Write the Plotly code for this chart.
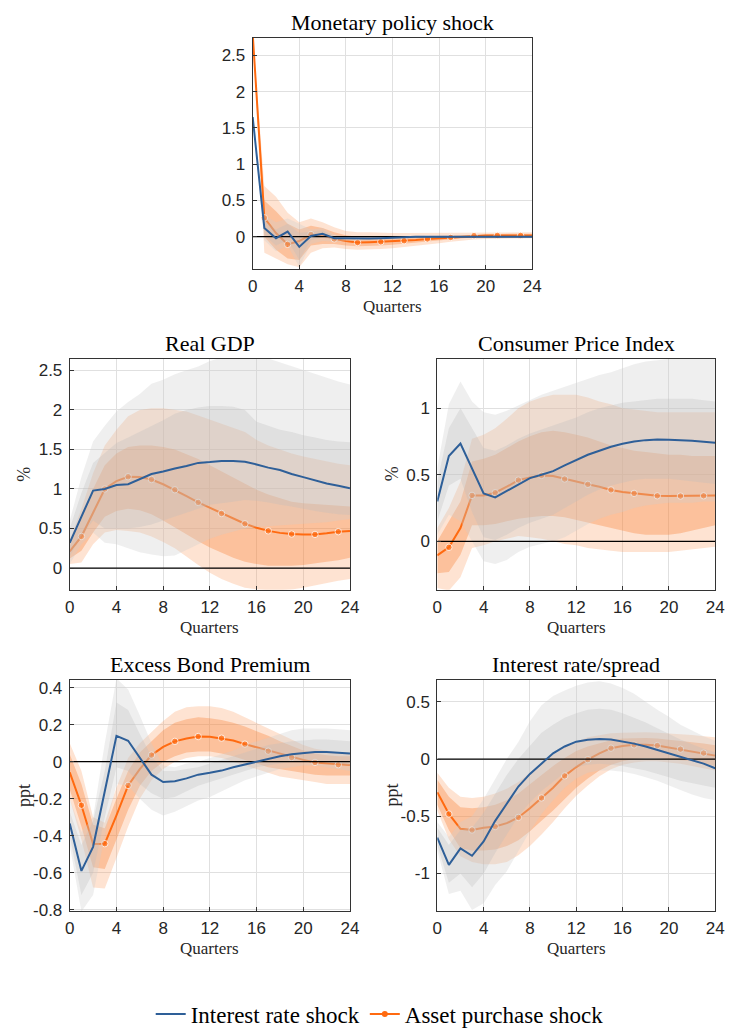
import plotly.graph_objects as go

quarters = list(range(25))

# ---------------- Monetary policy shock ----------------
mp_ir = [1.65, 0.12, -0.02, 0.07, -0.14, 0.01, 0.04, -0.02, -0.02, -0.025, -0.025, -0.02, -0.01,
         -0.005, 0.0, 0.0, 0.0, 0.0, 0.0, 0.0, 0.0, 0.0, 0.0, 0.0, 0.0]
mp_ir_lo90 = [1.65, -0.05, -0.2, -0.12, -0.42, -0.1, -0.06, -0.07, -0.06, -0.06, -0.05, -0.04, -0.03,
              -0.02, -0.015, -0.01, -0.01, -0.01, -0.01, -0.01, -0.01, -0.01, -0.01, -0.01, -0.01]
mp_ir_lo68 = [1.65, 0.02, -0.12, -0.05, -0.32, -0.05, -0.01, -0.05, -0.04, -0.04, -0.04, -0.03, -0.02,
              -0.01, -0.01, -0.005, -0.005, -0.005, -0.005, -0.005, -0.005, -0.005, -0.005, -0.005, -0.005]
mp_ir_hi68 = [1.65, 0.22, 0.1, 0.18, 0.05, 0.07, 0.09, 0.01, 0.0, -0.01, -0.01, -0.005, 0.0,
              0.0, 0.005, 0.005, 0.005, 0.005, 0.005, 0.005, 0.005, 0.005, 0.005, 0.005, 0.005]
mp_ir_hi90 = [1.65, 0.3, 0.2, 0.25, 0.18, 0.1, 0.12, 0.03, 0.01, 0.0, 0.0, 0.005, 0.01,
              0.01, 0.01, 0.01, 0.01, 0.01, 0.01, 0.01, 0.01, 0.01, 0.01, 0.01, 0.01]
mp_ap = [2.8, 0.26, 0.05, -0.105, -0.06, 0.03, 0.02, -0.03, -0.06, -0.08, -0.075, -0.07, -0.062,
         -0.055, -0.045, -0.03, -0.02, -0.01, 0.0, 0.014, 0.016, 0.018, 0.018, 0.018, 0.018]
mp_ap_lo90 = [2.8, -0.22, -0.3, -0.38, -0.42, -0.22, -0.16, -0.15, -0.17, -0.18, -0.18, -0.17, -0.16,
              -0.15, -0.13, -0.11, -0.09, -0.07, -0.05, -0.04, -0.03, -0.025, -0.02, -0.02, -0.02]
mp_ap_lo68 = [2.8, 0.0, -0.18, -0.3, -0.32, -0.12, -0.1, -0.1, -0.12, -0.13, -0.13, -0.12, -0.11,
              -0.1, -0.09, -0.07, -0.05, -0.035, -0.02, -0.01, -0.005, 0.0, 0.0, 0.0, 0.0]
mp_ap_hi68 = [2.8, 0.5, 0.35, 0.18, 0.1, 0.15, 0.12, 0.06, 0.02, 0.0, -0.005, -0.01, -0.01,
              -0.005, 0.0, 0.01, 0.02, 0.025, 0.03, 0.035, 0.04, 0.04, 0.04, 0.04, 0.04]
mp_ap_hi90 = [2.8, 0.7, 0.55, 0.33, 0.2, 0.25, 0.2, 0.13, 0.08, 0.06, 0.06, 0.05, 0.05,
              0.05, 0.05, 0.05, 0.05, 0.055, 0.06, 0.06, 0.06, 0.06, 0.06, 0.06, 0.06]

# ---------------- Real GDP ----------------
gdp_ir = [0.32, 0.65, 0.98, 1.0, 1.05, 1.06, 1.12, 1.19, 1.22, 1.26, 1.29, 1.33, 1.34,
          1.355, 1.355, 1.345, 1.31, 1.27, 1.24, 1.19, 1.15, 1.11, 1.07, 1.04, 1.01]
gdp_ir_lo90 = [0.05, 0.3, 0.45, 0.32, 0.3, 0.25, 0.2, 0.17, 0.15, 0.16, 0.22, 0.3, 0.37,
               0.42, 0.46, 0.5, 0.52, 0.53, 0.54, 0.55, 0.56, 0.57, 0.58, 0.6, 0.62]
gdp_ir_lo68 = [0.15, 0.4, 0.6, 0.5, 0.5, 0.5, 0.52, 0.55, 0.6, 0.65, 0.7, 0.75, 0.8,
               0.82, 0.84, 0.86, 0.85, 0.83, 0.8, 0.78, 0.75, 0.72, 0.7, 0.68, 0.67]
gdp_ir_hi68 = [0.5, 0.95, 1.33, 1.45, 1.58, 1.65, 1.72, 1.8, 1.87, 1.95, 2.0, 2.03, 2.05,
               2.05, 2.04, 2.0, 1.85, 1.8, 1.75, 1.72, 1.68, 1.65, 1.62, 1.6, 1.59]
gdp_ir_hi90 = [0.6, 1.15, 1.6, 1.8, 1.98, 2.1, 2.2, 2.33, 2.38, 2.45, 2.5, 2.55, 2.62,
               2.66, 2.67, 2.67, 2.67, 2.65, 2.6, 2.55, 2.5, 2.45, 2.4, 2.36, 2.32]
gdp_ap = [0.21, 0.4, 0.7, 1.0, 1.1, 1.155, 1.15, 1.12, 1.06, 0.99, 0.91, 0.83, 0.76,
          0.69, 0.62, 0.56, 0.51, 0.47, 0.445, 0.43, 0.425, 0.425, 0.44, 0.46, 0.47]
gdp_ap_lo90 = [0.05, 0.07, 0.3, 0.45, 0.48, 0.47, 0.45, 0.4, 0.33, 0.25, 0.15, 0.04, -0.06,
               -0.14, -0.2, -0.25, -0.27, -0.28, -0.28, -0.27, -0.25, -0.22, -0.19, -0.16, -0.14]
gdp_ap_lo68 = [0.12, 0.22, 0.45, 0.65, 0.72, 0.75, 0.73, 0.68, 0.6, 0.52, 0.43, 0.34, 0.26,
               0.19, 0.13, 0.08, 0.05, 0.03, 0.03, 0.03, 0.04, 0.06, 0.08, 0.1, 0.13]
gdp_ap_hi68 = [0.28, 0.62, 1.0, 1.3, 1.45, 1.53, 1.55, 1.55, 1.53, 1.5, 1.44, 1.38, 1.3,
               1.22, 1.14, 1.06, 0.99, 0.93, 0.88, 0.84, 0.82, 0.81, 0.8, 0.79, 0.78]
gdp_ap_hi90 = [0.35, 0.75, 1.2, 1.55, 1.75, 1.92, 2.0, 2.02, 2.02, 2.0, 1.98, 1.93, 1.88,
               1.82, 1.77, 1.72, 1.62, 1.55, 1.5, 1.45, 1.41, 1.38, 1.35, 1.32, 1.3]

# ---------------- Consumer Price Index ----------------
cpi_ir = [0.3, 0.64, 0.735, 0.55, 0.36, 0.33, 0.38, 0.43, 0.475, 0.5, 0.527, 0.57, 0.61,
          0.65, 0.68, 0.71, 0.733, 0.75, 0.76, 0.765, 0.762, 0.76, 0.755, 0.748, 0.74]
cpi_ir_lo90 = [0.05, 0.2, 0.15, 0.0, -0.15, -0.17, -0.14, -0.08, -0.04, -0.02, 0.0, 0.03, 0.08,
               0.13, 0.17, 0.2, 0.22, 0.25, 0.27, 0.28, 0.29, 0.29, 0.29, 0.3, 0.3]
cpi_ir_lo68 = [0.15, 0.42, 0.47, 0.22, 0.03, 0.01, 0.05, 0.1, 0.14, 0.17, 0.2, 0.25, 0.3,
               0.35, 0.39, 0.42, 0.44, 0.46, 0.47, 0.47, 0.47, 0.46, 0.45, 0.44, 0.43]
cpi_ir_hi68 = [0.45, 0.85, 1.0, 0.85, 0.7, 0.68, 0.72, 0.77, 0.81, 0.84, 0.87, 0.9, 0.93,
               0.97, 1.0, 1.02, 1.04, 1.05, 1.06, 1.07, 1.07, 1.07, 1.07, 1.06, 1.05]
cpi_ir_hi90 = [0.55, 1.03, 1.2, 1.05, 0.97, 0.95, 0.98, 1.02, 1.06, 1.1, 1.13, 1.16, 1.19,
               1.22, 1.25, 1.27, 1.3, 1.33, 1.35, 1.36, 1.37, 1.37, 1.37, 1.37, 1.37]
cpi_ap = [-0.105, -0.045, 0.1, 0.345, 0.345, 0.365, 0.41, 0.46, 0.48, 0.495, 0.49, 0.468, 0.45,
          0.428, 0.41, 0.386, 0.37, 0.36, 0.35, 0.342, 0.34, 0.34, 0.342, 0.342, 0.345]
cpi_ap_lo90 = [-0.35, -0.37, -0.27, -0.05, -0.03, 0.0, 0.02, 0.04, 0.03, 0.02, 0.0, -0.02, -0.03,
               -0.05, -0.06, -0.07, -0.08, -0.08, -0.08, -0.08, -0.08, -0.07, -0.06, -0.05, -0.04]
cpi_ap_lo68 = [-0.24, -0.23, -0.1, 0.12, 0.12, 0.13, 0.15, 0.17, 0.18, 0.19, 0.19, 0.18, 0.16,
               0.14, 0.12, 0.1, 0.08, 0.06, 0.05, 0.05, 0.05, 0.06, 0.08, 0.1, 0.12]
cpi_ap_hi68 = [0.0, 0.15, 0.3, 0.6, 0.62, 0.65, 0.7, 0.75, 0.79, 0.82, 0.83, 0.82, 0.8,
               0.78, 0.75, 0.72, 0.7, 0.68, 0.67, 0.66, 0.65, 0.65, 0.64, 0.64, 0.64]
cpi_ap_hi90 = [0.1, 0.25, 0.45, 0.77, 0.8, 0.85, 0.92, 1.0, 1.05, 1.08, 1.1, 1.1, 1.1,
               1.08, 1.05, 1.03, 1.0, 0.99, 0.98, 0.97, 0.97, 0.97, 0.97, 0.97, 0.97]

# ---------------- Excess Bond Premium ----------------
ebp_ir = [-0.334, -0.59, -0.46, -0.16, 0.14, 0.113, 0.02, -0.07, -0.11, -0.105, -0.09, -0.07, -0.06,
          -0.048, -0.03, -0.015, 0.0, 0.015, 0.03, 0.04, 0.048, 0.052, 0.052, 0.048, 0.045]
ebp_ir_lo90 = [-0.45, -0.81, -0.72, -0.4, -0.12, -0.13, -0.2, -0.26, -0.29, -0.27, -0.24, -0.21, -0.19,
               -0.16, -0.13, -0.1, -0.08, -0.06, -0.04, -0.03, -0.02, -0.02, -0.03, -0.04, -0.05]
ebp_ir_lo68 = [-0.4, -0.72, -0.6, -0.3, -0.03, -0.05, -0.12, -0.17, -0.2, -0.19, -0.16, -0.13, -0.11,
               -0.09, -0.07, -0.05, -0.03, -0.02, -0.01, 0.0, 0.0, 0.0, -0.005, -0.01, -0.02]
ebp_ir_hi68 = [-0.27, -0.45, -0.32, -0.05, 0.32, 0.28, 0.15, 0.03, -0.05, -0.05, -0.04, -0.03, -0.01,
               0.01, 0.03, 0.05, 0.07, 0.09, 0.1, 0.11, 0.115, 0.12, 0.12, 0.115, 0.11]
ebp_ir_hi90 = [-0.2, -0.38, -0.3, 0.1, 0.45, 0.39, 0.25, 0.1, -0.02, -0.03, -0.01, 0.0, 0.02,
               0.04, 0.06, 0.09, 0.11, 0.13, 0.15, 0.17, 0.18, 0.18, 0.18, 0.175, 0.17]
ebp_ap = [-0.057, -0.235, -0.445, -0.443, -0.29, -0.128, -0.04, 0.036, 0.08, 0.11, 0.125, 0.136, 0.135,
          0.127, 0.115, 0.095, 0.078, 0.057, 0.04, 0.023, 0.01, -0.004, -0.01, -0.016, -0.018]
ebp_ap_lo90 = [-0.2, -0.42, -0.68, -0.685, -0.52, -0.35, -0.2, -0.1, -0.04, 0.0, 0.02, 0.03, 0.03,
               0.02, 0.0, -0.02, -0.04, -0.06, -0.08, -0.09, -0.1, -0.11, -0.12, -0.12, -0.12]
ebp_ap_lo68 = [-0.15, -0.35, -0.57, -0.58, -0.42, -0.26, -0.13, -0.05, 0.0, 0.03, 0.05, 0.055, 0.055,
               0.045, 0.03, 0.01, -0.01, -0.03, -0.04, -0.05, -0.06, -0.07, -0.075, -0.075, -0.075]
ebp_ap_hi68 = [0.04, -0.12, -0.34, -0.36, -0.2, -0.05, 0.05, 0.11, 0.17, 0.21, 0.23, 0.24, 0.235,
               0.225, 0.21, 0.19, 0.165, 0.14, 0.11, 0.085, 0.06, 0.045, 0.035, 0.03, 0.03]
ebp_ap_hi90 = [0.1, -0.05, -0.3, -0.33, -0.14, 0.02, 0.1, 0.16, 0.22, 0.27, 0.295, 0.3, 0.3,
               0.29, 0.27, 0.24, 0.21, 0.18, 0.15, 0.12, 0.09, 0.07, 0.06, 0.05, 0.05]

# ---------------- Interest rate / spread ----------------
irs_ir = [-0.687, -0.925, -0.78, -0.845, -0.72, -0.54, -0.39, -0.24, -0.13, -0.04, 0.05, 0.11, 0.152,
          0.168, 0.175, 0.17, 0.155, 0.135, 0.11, 0.08, 0.05, 0.02, -0.01, -0.04, -0.08]
irs_ir_lo90 = [-0.8, -1.18, -1.15, -1.32, -1.26, -1.1, -0.98, -0.8, -0.63, -0.48, -0.36, -0.25, -0.17,
               -0.12, -0.1, -0.1, -0.11, -0.13, -0.16, -0.19, -0.23, -0.27, -0.31, -0.34, -0.36]
irs_ir_lo68 = [-0.75, -1.08, -1.0, -1.12, -1.0, -0.82, -0.66, -0.5, -0.38, -0.28, -0.2, -0.12, -0.07,
               -0.05, -0.04, -0.05, -0.06, -0.08, -0.1, -0.13, -0.16, -0.19, -0.21, -0.23, -0.25]
irs_ir_hi68 = [-0.6, -0.75, -0.62, -0.6, -0.47, -0.3, -0.14, 0.0, 0.12, 0.23, 0.3, 0.36, 0.4,
               0.43, 0.44, 0.43, 0.4, 0.36, 0.32, 0.27, 0.22, 0.17, 0.13, 0.09, 0.06]
irs_ir_hi90 = [-0.55, -0.68, -0.55, -0.5, -0.35, -0.18, 0.0, 0.15, 0.33, 0.47, 0.55, 0.6, 0.64,
               0.67, 0.68, 0.66, 0.62, 0.57, 0.5, 0.43, 0.37, 0.3, 0.25, 0.2, 0.16]
irs_ap = [-0.29, -0.48, -0.61, -0.62, -0.6, -0.59, -0.56, -0.51, -0.43, -0.34, -0.25, -0.147, -0.07,
          -0.005, 0.05, 0.095, 0.115, 0.124, 0.125, 0.118, 0.1, 0.086, 0.07, 0.052, 0.03]
irs_ap_lo90 = [-0.45, -0.7, -0.85, -0.9, -0.92, -0.92, -0.9, -0.84, -0.76, -0.66, -0.55, -0.43, -0.32,
               -0.23, -0.15, -0.09, -0.05, -0.03, -0.02, -0.02, -0.03, -0.04, -0.06, -0.08, -0.1]
irs_ap_lo68 = [-0.4, -0.62, -0.78, -0.8, -0.8, -0.79, -0.76, -0.71, -0.63, -0.54, -0.45, -0.35, -0.25,
               -0.17, -0.1, -0.05, -0.02, 0.0, 0.01, 0.01, 0.0, -0.01, -0.02, -0.04, -0.06]
irs_ap_hi68 = [-0.18, -0.33, -0.42, -0.43, -0.42, -0.4, -0.36, -0.3, -0.22, -0.14, -0.06, 0.01, 0.07,
               0.11, 0.14, 0.165, 0.18, 0.185, 0.185, 0.18, 0.17, 0.16, 0.15, 0.135, 0.12]
irs_ap_hi90 = [-0.12, -0.25, -0.33, -0.34, -0.33, -0.3, -0.26, -0.2, -0.12, -0.04, 0.04, 0.1, 0.15,
               0.19, 0.21, 0.225, 0.23, 0.235, 0.235, 0.23, 0.225, 0.22, 0.21, 0.2, 0.19]

panel_titles = ["Monetary policy shock", "Real GDP", "Consumer Price Index",
                "Excess Bond Premium", "Interest rate/spread"]
panel_units = ["", "%", "%", "ppt", "ppt"]
x_ticks = [0, 4, 8, 12, 16, 20, 24]
y_ticks = [
    [0, 0.5, 1, 1.5, 2, 2.5],
    [0, 0.5, 1, 1.5, 2, 2.5],
    [0, 0.5, 1],
    [-0.8, -0.6, -0.4, -0.2, 0, 0.2, 0.4],
    [-1, -0.5, 0, 0.5],
]
y_ranges = [[-0.443, 2.745], [-0.275, 2.65], [-0.364, 1.373], [-0.807, 0.443], [-1.328, 0.693]]

series = [
    (mp_ir, mp_ir_lo90, mp_ir_lo68, mp_ir_hi68, mp_ir_hi90,
     mp_ap, mp_ap_lo90, mp_ap_lo68, mp_ap_hi68, mp_ap_hi90),
    (gdp_ir, gdp_ir_lo90, gdp_ir_lo68, gdp_ir_hi68, gdp_ir_hi90,
     gdp_ap, gdp_ap_lo90, gdp_ap_lo68, gdp_ap_hi68, gdp_ap_hi90),
    (cpi_ir, cpi_ir_lo90, cpi_ir_lo68, cpi_ir_hi68, cpi_ir_hi90,
     cpi_ap, cpi_ap_lo90, cpi_ap_lo68, cpi_ap_hi68, cpi_ap_hi90),
    (ebp_ir, ebp_ir_lo90, ebp_ir_lo68, ebp_ir_hi68, ebp_ir_hi90,
     ebp_ap, ebp_ap_lo90, ebp_ap_lo68, ebp_ap_hi68, ebp_ap_hi90),
    (irs_ir, irs_ir_lo90, irs_ir_lo68, irs_ir_hi68, irs_ir_hi90,
     irs_ap, irs_ap_lo90, irs_ap_lo68, irs_ap_hi68, irs_ap_hi90),
]

# ---------------- figure geometry (pixels) ----------------
W, H = 734, 1036
# left, right, top, bottom of each axes box
boxes = [
    (252.5, 537.5, 37.0, 271.0),
    (66.0, 351.7, 361.7, 595.7),
    (440.7, 724.0, 361.7, 595.7),
    (66.0, 351.7, 686.7, 920.7),
    (440.7, 724.0, 686.7, 920.7),
]

BLUE = "#2E5F98"
ORANGE = "#FF6A10"
ORANGE_90 = "rgba(250,145,80,0.26)"
ORANGE_68 = "rgba(250,125,45,0.33)"
GREY_90 = "rgba(205,205,205,0.32)"
GREY_68 = "rgba(188,188,188,0.30)"
AXIS_COL = "#333333"
GRID_COL = "#E0E0E0"
SERIF = "Liberation Serif"
SANS = "Liberation Sans"

fig = go.Figure()


def band(ax, lo, hi, color):
    xs = quarters + quarters[::-1]
    ys = list(hi) + list(lo)[::-1]
    return go.Scatter(x=xs, y=ys, xaxis=ax[0], yaxis=ax[1], fill="toself",
                      fillcolor=color, line=dict(width=0), mode="lines",
                      hoverinfo="skip", showlegend=False)


for i, s in enumerate(series):
    (ir, ir_lo90, ir_lo68, ir_hi68, ir_hi90, ap, ap_lo90, ap_lo68, ap_hi68, ap_hi90) = s
    n = "" if i == 0 else str(i + 1)
    ax = ("x" + n, "y" + n)
    # asset purchase bands and response
    fig.add_trace(band(ax, ap_lo90, ap_hi90, ORANGE_90))
    fig.add_trace(band(ax, ap_lo68, ap_hi68, ORANGE_68))
    fig.add_trace(go.Scatter(
        x=quarters, y=ap, xaxis=ax[0], yaxis=ax[1], mode="lines+markers",
        line=dict(color=ORANGE, width=2),
        marker=dict(color=ORANGE, size=[0 if q % 2 == 0 else 6.5 for q in quarters]),
        showlegend=False))
    # interest rate bands
    fig.add_trace(band(ax, ir_lo90, ir_hi90, GREY_90))
    fig.add_trace(band(ax, ir_lo68, ir_hi68, GREY_68))
    # zero line
    fig.add_trace(go.Scatter(x=[0, 24], y=[0, 0], xaxis=ax[0], yaxis=ax[1], mode="lines",
                             line=dict(color="black", width=1.3), hoverinfo="skip",
                             showlegend=False))
    # interest rate response
    fig.add_trace(go.Scatter(x=quarters, y=ir, xaxis=ax[0], yaxis=ax[1], mode="lines",
                             line=dict(color=BLUE, width=2), showlegend=False))

# legend entries
fig.add_trace(go.Scatter(x=[None], y=[None], mode="lines", name="Interest rate shock",
                         line=dict(color=BLUE, width=2), legendrank=1))
fig.add_trace(go.Scatter(x=[None], y=[None], mode="lines+markers", name="Asset purchase shock",
                         line=dict(color=ORANGE, width=2), marker=dict(color=ORANGE, size=6),
                         legendrank=2))


def fmt(v):
    return "%g" % v


annotations = []
for i, (l, r, t, b) in enumerate(boxes):
    n = "" if i == 0 else str(i + 1)
    xd = [l / W, r / W]
    yd = [(H - b) / H, (H - t) / H]
    common = dict(showline=True, mirror=True, linecolor=AXIS_COL, linewidth=1,
                  ticks="inside", ticklen=4, tickcolor=AXIS_COL, showgrid=True,
                  gridcolor=GRID_COL, gridwidth=1, zeroline=False,
                  tickfont=dict(family=SANS, size=17, color="#262626"))
    fig.update_layout(**{
        "xaxis" + n: dict(domain=xd, range=[0, 24], tickvals=x_ticks,
                          ticktext=[str(v) for v in x_ticks], anchor="y" + n,
                          ticklabelstandoff=2, **common),
        "yaxis" + n: dict(domain=yd, range=y_ranges[i], tickvals=y_ticks[i],
                          ticktext=[fmt(v) for v in y_ticks[i]], anchor="x" + n,
                          ticklabelstandoff=3, **common),
    })
    cx = (l + r) / 2
    annotations.append(dict(text=panel_titles[i], x=cx / W, y=(H - (t - 15)) / H,
                            xref="paper", yref="paper", xanchor="center", yanchor="middle",
                            showarrow=False, font=dict(family=SERIF, size=22, color="black")))
    annotations.append(dict(text="Quarters", x=cx / W, y=(H - (b + 38)) / H,
                            xref="paper", yref="paper", xanchor="center", yanchor="middle",
                            showarrow=False, font=dict(family=SERIF, size=17, color="#262626")))
    if panel_units[i]:
        annotations.append(dict(text=panel_units[i], x=(l - 46) / W, y=(H - (t + b) / 2) / H,
                                xref="paper", yref="paper", xanchor="center", yanchor="middle",
                                textangle=-90, showarrow=False,
                                font=dict(family=SERIF, size=18, color="#262626")))

fig.update_layout(
    width=W, height=H,
    margin=dict(l=0, r=0, t=0, b=0),
    paper_bgcolor="white", plot_bgcolor="white",
    annotations=annotations,
    showlegend=True,
    legend=dict(orientation="h", x=382 / W, xanchor="center", y=(H - 1025) / H,
                yanchor="middle", font=dict(family=SERIF, size=23, color="black"),
                itemwidth=30, bgcolor="rgba(0,0,0,0)", tracegroupgap=0),
)

fig.write_html("out.html")
